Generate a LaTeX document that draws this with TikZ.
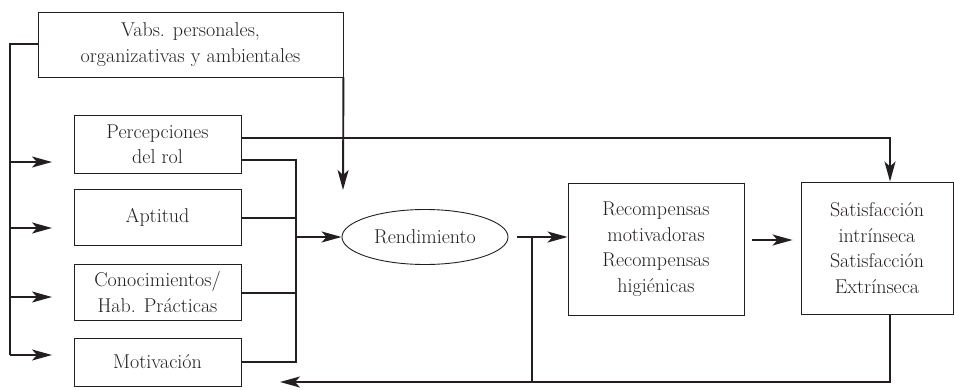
\documentclass[tikz,border=0pt]{standalone}
\usepackage{fontspec}
\usetikzlibrary{arrows.meta,shapes.geometric}
\definecolor{ink}{HTML}{231F20}
\begin{document}
\begin{tikzpicture}[x=1pt,y=-1pt,
  box/.style={draw=ink,line width=0.9pt,align=center,text=ink,inner sep=0pt,
    font=\fontsize{20}{25.5}\selectfont},
  conn/.style={draw=ink,line width=1.9pt},
  arr/.style={conn,-{Stealth[length=20pt,width=11pt,inset=5pt]}}]
\useasboundingbox (0,0) rectangle (954,389);
\node[box,minimum width=305pt,minimum height=65pt] (vabs) at (190.5,44.5) {Vabs. personales,\\organizativas y ambientales};
\node[box,minimum width=167pt,minimum height=58pt] (perc) at (157.5,144) {Percepciones\\del rol};
\node[box,minimum width=167pt,minimum height=56pt] (apt) at (157.5,217) {Aptitud};
\node[box,minimum width=167pt,minimum height=56pt] (con) at (157.5,292) {Conocimientos/\\Hab. Prácticas};
\node[box,minimum width=167pt,minimum height=48pt] (mot) at (157.5,362) {Motivación};
\node[box,ellipse,minimum width=166pt,minimum height=55pt] (rend) at (425,237) {Rendimiento};
\node[box,minimum width=176pt,minimum height=132pt] (rec) at (656,249) {Recompensas\\motivadoras\\Recompensas\\higiénicas};
\node[box,minimum width=152pt,minimum height=132pt] (sat) at (877,248) {Satisfacción\\intrínseca\\Satisfacción\\Extrínseca};
% left bus
\coordinate (lb1) at (10,44);
\coordinate (lb2) at (10,355);
\draw[conn] (vabs.west |- lb1) -- (lb1) -- (lb2);
\foreach \yy in {162,228,297,355}{
  \draw[arr] (10,\yy) -- (52,\yy);
}
% vabs down arrow
\coordinate (va) at (343,190);
\draw[arr] (vabs.south east) -- (va);
% percepciones to satisfaccion
\coordinate (pk) at (890,138);
\draw[arr] (perc.east |- pk) -- (pk) -- (sat.north -| pk);
% right bus to rendimiento
\coordinate (rb1) at (296,160);
\coordinate (rb2) at (296,362);
\draw[conn] (perc.east |- rb1) -- (rb1) -- (rb2) -- (mot.east |- rb2);
\draw[conn] (apt.east |- 0,218) -- (296,218);
\draw[conn] (con.east |- 0,293) -- (296,293);
\draw[arr] (296,237) -- (rend.west);
% rendimiento to recompensas
\coordinate (ra) at (517,237);
\coordinate (rj) at (532,237);
\draw[arr] (ra) -- (rec.west |- ra);
% recompensas to satisfaccion
\draw[arr] ([xshift=8pt]rec.east |- 0,240) -- ([xshift=-8pt]sat.west |- 0,240);
% feedback
\coordinate (fb1) at (890,382);
\coordinate (fbe) at (280,382);
\draw[arr] (sat.south -| fb1) -- (fb1) -- (fbe);
\draw[conn] (rj) -- (rj |- fb1);
\end{tikzpicture}
\end{document}
